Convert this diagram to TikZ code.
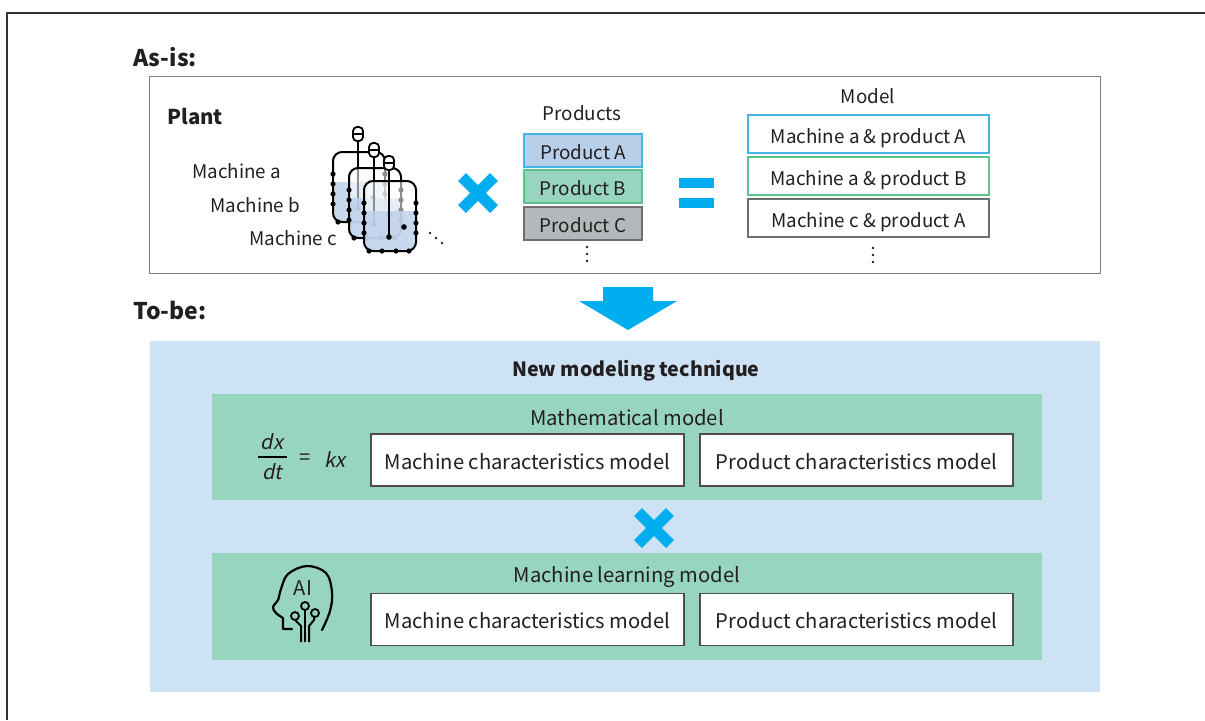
\documentclass[tikz,border=0pt]{standalone}
\usepackage{fontspec}
\setmainfont{Noto Sans CJK JP}
\newfontfamily\slantfont[FakeSlant=0.2]{Noto Sans CJK JP}

\definecolor{cyanblue}{HTML}{00AEEF}
\definecolor{panelblue}{HTML}{CDE2F5}
\definecolor{panelgreen}{HTML}{98D5BE}
\definecolor{textgray}{HTML}{231F20}
\definecolor{framegray}{HTML}{333333}
\definecolor{prodAfill}{HTML}{B8CFEA}
\definecolor{prodAline}{HTML}{45B4E6}
\definecolor{prodBline}{HTML}{5BC38E}
\definecolor{prodCfill}{HTML}{B3B8BB}
\definecolor{prodCline}{HTML}{6D6E70}
\definecolor{liquid}{HTML}{BFD2EC}

% one stirred tank, body corner at (#1,#2)
\newcommand{\drawtank}[2]{%
  \begin{scope}[shift={(#1,#2)}]
    \fill[white, fill opacity=0.55, rounded corners=4.5pt] (0,0) rectangle (52,70);
    \begin{scope}
      \clip[rounded corners=4.5pt] (0,0) rectangle (52,70);
      \fill[liquid, fill opacity=0.85] (0,30) rectangle (52,70);
    \end{scope}
    \draw[line width=1pt, rounded corners=4.5pt] (0,0) rectangle (52,70);
    % probe
    \draw[line width=0.9pt, fill=white, rounded corners=2pt] (20,-25) rectangle (30,-11);
    \draw[line width=0.8pt] (20,-18) -- (30,-18);
    \draw[line width=1.1pt] (25,-11) -- (25,56);
    \fill (25,56) circle (1.4pt);
    \fill (40,46) circle (1.4pt);
    % bolts
    \foreach \b in {22,32,42,52} {
      \fill (0,\b) circle (1.3pt);
      \fill (52,\b) circle (1.3pt);
    }
    \foreach \b in {5,18,32,45} \fill (\b,70) circle (1.3pt);
  \end{scope}}

\begin{document}
\begin{tikzpicture}[x=0.5pt, y=-0.5pt,
  every node/.style={font=\fontsize{10.1}{12}\selectfont, text=textgray, inner sep=0pt},
  small/.style={font=\fontsize{9.4}{11}\selectfont},
  headline/.style={font=\fontsize{11.5}{14}\selectfont\bfseries, anchor=west},
  boxtext/.style={text height=1em, text depth=0.1em},
  prodbox/.style={small, boxtext, draw, line width=0.8pt, minimum width=59pt, minimum height=16.5pt},
  modelbox/.style={small, boxtext, draw, fill=white, line width=0.7pt, minimum width=120.5pt, minimum height=19pt},
  charbox/.style={boxtext, draw=textgray!80, fill=white, line width=0.9pt, minimum width=156.5pt, minimum height=26pt},
  crossline/.style={draw=cyanblue, line width=5.5pt},
  dotmark/.style={fill=textgray}
]
\useasboundingbox (0,0) rectangle (1205,720);

% Frame
\draw[line width=1pt, framegray] (7,720) -- (7,13) -- (1205,13);

% As-is
\node[headline] (asis) at (133,57) {As-is:};
\draw[line width=0.5pt, draw=gray] (149,76) rectangle (1100,273);
\node[font=\fontsize{10.2}{12}\selectfont\bfseries, anchor=west] (plant) at (167,116) {Plant};

\node[small, anchor=west] (ma) at (192,171) {Machine a};
\node[small, anchor=west] (mb) at (210,205) {Machine b};
\node[small, anchor=west] (mc) at (249,238) {Machine c};

\drawtank{333}{152}
\drawtank{349}{168}
\drawtank{364}{181}
\foreach \d in {0,1,2} \fill[dotmark] (430+6*\d,233+5*\d) circle (0.7pt);

% times sign
\draw[crossline] (462,177) -- (494,209);
\draw[crossline] (462,209) -- (494,177);

% Products
\node[small] (prodlabel) at (582,113) {Products};
\node[prodbox, draw=prodAline, fill=prodAfill] (pa) at (583,150.5) {Product A};
\node[prodbox, draw=prodBline, fill=panelgreen] (pb) at (583,186.5) {Product B};
\node[prodbox, draw=prodCline, fill=prodCfill] (pc) at (583,223.5) {Product C};
\foreach \d in {0,1,2} \fill[dotmark] (587,247+7*\d) circle (0.7pt);

% equals sign
\fill[cyanblue] (679,178) rectangle (714,188);
\fill[cyanblue] (679,198) rectangle (714,208);

% Model
\node[small] (modellabel) at (868,96) {Model};
\node[modelbox, draw=prodAline] (m1) at (868.5,134) {Machine a \& product A};
\node[modelbox, draw=prodBline] (m2) at (868.5,176) {Machine a \& product B};
\node[modelbox, draw=prodCline] (m3) at (868.5,218) {Machine c \& product A};
\foreach \d in {0,1,2} \fill[dotmark] (873,248+7*\d) circle (0.7pt);

% Down arrow
\fill[cyanblue] (603,287) -- (653,287) -- (653,301) -- (677,301) -- (628,330)
  -- (579,301) -- (603,301) -- cycle;

% To-be
\node[headline] (tobe) at (133,310) {To-be:};
\fill[panelblue] (150,341) rectangle (1100,692);
\node[font=\fontsize{9.8}{12}\selectfont\bfseries] (newtech) at (636,371) {New modeling technique};

% Mathematical model
\fill[panelgreen] (212,394) rectangle (1042,500);
\node (mathlabel) at (627,418) {Mathematical model};
\node[font=\fontsize{10}{12}\slantfont] (dx) at (272,442) {dx};
\node[font=\fontsize{10}{12}\slantfont] (dt) at (272,472) {dt};
\draw[line width=0.6pt] (258,457) -- (287,457);
\node (eq) at (305,459) {=};
\node[font=\fontsize{10}{12}\slantfont] (kx) at (335,460) {kx};
\node[charbox] (mcm1) at (527.5,460) {Machine characteristics model};
\node[charbox] (pcm1) at (856.5,460) {Product characteristics model};

% times sign
\draw[crossline] (638,512) -- (670,544);
\draw[crossline] (638,544) -- (670,512);

% Machine learning model
\fill[panelgreen] (212,553) rectangle (1042,660);
\node (mllabel) at (627,577) {Machine learning model};
\node[charbox] (mcm2) at (527.5,619.5) {Machine characteristics model};
\node[charbox] (pcm2) at (856.5,619.5) {Product characteristics model};

% AI head
\draw[line width=1.1pt, line cap=round, line join=round]
  (292,629) -- (283,629) -- (283,618)
  plot[smooth, tension=0.6] coordinates {(283,618) (276,613) (273,607) (278,600)
    (281,589) (288,574) (307,566) (326,573) (332,592) (330,611) (322,630)};
\node (ai) at (303,588) {AI};
\draw[line width=1pt] (305,642) -- (305,610);
\draw[line width=1pt] (301,642) -- (301,626) -- (296,621) -- (296,619);
\draw[line width=1pt] (309,642) -- (309,626) -- (314,620) -- (314,617);
\draw[line width=0.9pt, fill=panelgreen] (305,606) circle (2pt);
\draw[line width=0.9pt, fill=panelgreen] (295,616) circle (2pt);
\draw[line width=0.9pt, fill=panelgreen] (315,613) circle (2pt);
\end{tikzpicture}
\end{document}
